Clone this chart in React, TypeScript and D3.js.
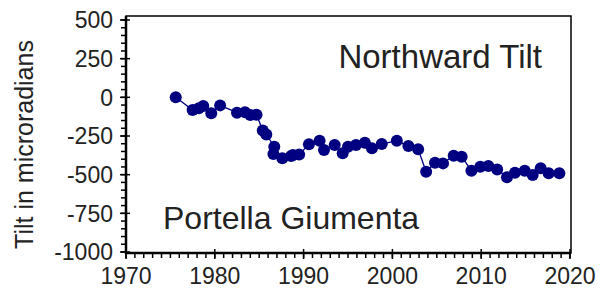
import React, { useRef, useEffect } from 'react';
import * as d3 from 'd3';

// Tilt series (year, microradians)
const years = [
  1975.6, 1977.5, 1978.2, 1978.7, 1979.6, 1980.6,
  1982.5, 1983.4, 1984.0, 1984.7, 1985.4, 1985.8, 1986.7, 1986.6, 1987.6, 1988.6,
  1988.8, 1989.5, 1990.6, 1991.8, 1992.3, 1993.5, 1994.4, 1995.0, 1995.9, 1996.9,
  1997.7, 1998.8, 2000.5, 2001.8, 2002.9, 2003.8, 2004.8, 2005.7, 2006.9, 2007.8,
  2008.9, 2009.9, 2010.8, 2011.8, 2012.9, 2013.8, 2014.9, 2015.8, 2016.7, 2017.6,
  2018.8,
];
const tilt = [
  0, -82, -70, -56, -103, -52,
  -99, -97, -114, -112, -215, -240, -319, -366, -394, -379,
  -373, -369, -304, -280, -341, -308, -362, -319, -308, -293,
  -330, -302, -280, -315, -336, -481, -423, -427, -377, -384,
  -474, -449, -444, -466, -517, -487, -474, -502, -459, -491,
  -491,
];
const yTicks = [500, 250, 0, -250, -500, -750, -1000];
const xTicks = [1970, 1980, 1990, 2000, 2010, 2020];

const W = 600;
const H = 293;
const FONT = 'Liberation Sans, Arial, sans-serif';

export default function App() {
  const svgRef = useRef<SVGSVGElement>(null);

  useEffect(() => {
    if (!svgRef.current) return;
    const svg = d3.select(svgRef.current);
    svg.selectAll('*').remove();

    const left = 126, right = 571, top = 16, bottom = 253;
    const x = d3.scaleLinear().domain([1970, 2020]).range([left, right - 1]);
    const y = d3.scaleLinear().domain([-1000, 500]).range([bottom - 1, top + 4]);

    // frame
    svg.append('rect')
      .attr('x', left).attr('y', top)
      .attr('width', right - left).attr('height', bottom - top)
      .attr('fill', 'none').attr('stroke', '#000').attr('stroke-width', 1.5);

    // y minor ticks
    const yMinor = d3.range(-1000, 501, 50);
    svg.append('g').selectAll('line').data(yMinor).enter().append('line')
      .attr('x1', left - 5).attr('x2', left)
      .attr('y1', d => y(d)).attr('y2', d => y(d))
      .attr('stroke', '#000').attr('stroke-width', 1.5);
    svg.append('g').selectAll('line').data(yTicks).enter().append('line')
      .attr('x1', left - 6).attr('x2', left + 4)
      .attr('y1', d => y(d)).attr('y2', d => y(d))
      .attr('stroke', '#000').attr('stroke-width', 1.5);

    // x minor ticks
    const xMinor = d3.range(1970, 2021, 1);
    svg.append('g').selectAll('line').data(xMinor).enter().append('line')
      .attr('x1', d => x(d)).attr('x2', d => x(d))
      .attr('y1', bottom).attr('y2', bottom + 5)
      .attr('stroke', '#000').attr('stroke-width', 1.5);
    svg.append('g').selectAll('line').data(xTicks).enter().append('line')
      .attr('x1', d => x(d)).attr('x2', d => x(d))
      .attr('y1', bottom - 4).attr('y2', bottom + 6)
      .attr('stroke', '#000').attr('stroke-width', 1.5);

    // axis lines thicker
    svg.append('line').attr('x1', left).attr('x2', left).attr('y1', top).attr('y2', bottom + 1)
      .attr('stroke', '#000').attr('stroke-width', 2.5);
    svg.append('line').attr('x1', left - 1).attr('x2', right).attr('y1', bottom).attr('y2', bottom)
      .attr('stroke', '#000').attr('stroke-width', 2.5);

    // tick labels
    svg.append('g').selectAll('text').data(yTicks).enter().append('text')
      .attr('x', left - 13).attr('y', d => y(d))
      .attr('dy', '0.36em').attr('text-anchor', 'end')
      .attr('font-family', FONT).attr('font-size', 23).attr('fill', '#222')
      .text(d => d);
    svg.append('g').selectAll('text').data(xTicks).enter().append('text')
      .attr('x', d => x(d)).attr('y', bottom + 31)
      .attr('text-anchor', 'middle')
      .attr('font-family', FONT).attr('font-size', 23).attr('fill', '#222')
      .text(d => d);

    // y title
    svg.append('text')
      .attr('transform', `translate(33,${(top + bottom) / 2 + 10}) rotate(-90)`)
      .attr('text-anchor', 'middle')
      .attr('font-family', FONT).attr('font-size', 25).attr('fill', '#222')
      .text('Tilt in microradians');

    // series
    const pts = years.map((yr, i) => [yr, tilt[i]] as [number, number]);
    const line = d3.line<[number, number]>().x(d => x(d[0])).y(d => y(d[1]));
    svg.append('path').attr('d', line(pts)!)
      .attr('fill', 'none').attr('stroke', '#000080').attr('stroke-width', 1.3);
    svg.append('g').selectAll('circle').data(pts).enter().append('circle')
      .attr('cx', d => x(d[0])).attr('cy', d => y(d[1]))
      .attr('r', 6).attr('fill', '#000080');

    // annotations
    svg.append('text').attr('x', 542).attr('y', 68).attr('text-anchor', 'end')
      .attr('font-family', FONT).attr('font-size', 33).attr('fill', '#222')
      .text('Northward Tilt');
    svg.append('text').attr('x', 163).attr('y', 229)
      .attr('font-family', FONT).attr('font-size', 32).attr('fill', '#222')
      .text('Portella Giumenta');
  }, []);

  return (
    <svg ref={svgRef} width={W} height={H}
      style={{ position: 'absolute', left: 0, top: 0, background: '#fff' }} />
  );
}
